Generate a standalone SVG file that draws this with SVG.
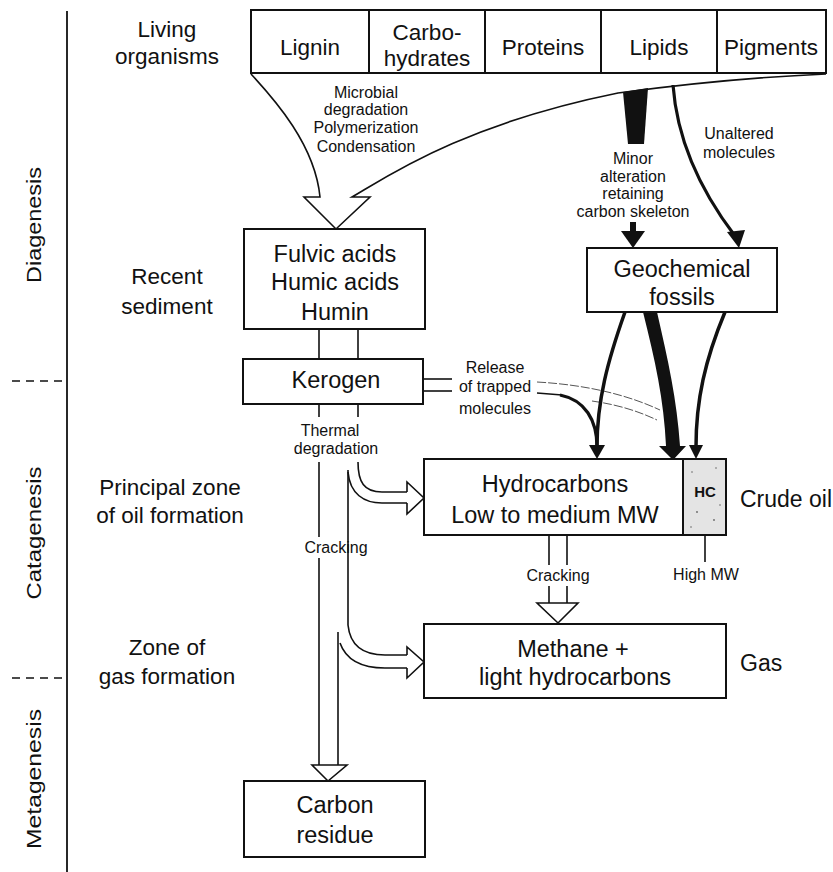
<svg xmlns="http://www.w3.org/2000/svg" width="833" height="872" viewBox="0 0 833 872">
<style>
.box{fill:#fff;stroke:#111;stroke-width:2}
.t{font-family:"Liberation Sans",Arial,sans-serif;font-size:22.5px;fill:#111;text-anchor:middle}
.s{font-size:16px}
.ln{fill:none;stroke:#111;stroke-width:1.6}
.thin{fill:none;stroke:#555;stroke-width:1;stroke-dasharray:9 2}
.ha{fill:#fff;stroke:#111;stroke-width:1.6;stroke-linejoin:miter}
.blk{fill:none;stroke:#111;stroke-width:3.5}
.bf{fill:#111;stroke:none}
</style>
<rect width="833" height="872" fill="#fff"/>

<g id="axis">
<line x1="67" y1="11" x2="67" y2="872" stroke="#111" stroke-width="1.8"/>
<line x1="12" y1="381" x2="62" y2="381" stroke="#111" stroke-width="1.5" stroke-dasharray="8 6"/>
<line x1="12" y1="678" x2="62" y2="678" stroke="#111" stroke-width="1.5" stroke-dasharray="8 6"/>
<text class="t" x="41" y="225" transform="rotate(-90 41 225)" style="font-size:20px" textLength="116" lengthAdjust="spacingAndGlyphs">Diagenesis</text>
<text class="t" x="41" y="533" transform="rotate(-90 41 533)" style="font-size:20px" textLength="133" lengthAdjust="spacingAndGlyphs">Catagenesis</text>
<text class="t" x="41" y="779" transform="rotate(-90 41 779)" style="font-size:20px" textLength="140" lengthAdjust="spacingAndGlyphs">Metagenesis</text>
</g>

<g id="zone-labels">
<text class="t" x="167" y="37">Living</text>
<text class="t" x="167" y="64">organisms</text>
<text class="t" x="167" y="284">Recent</text>
<text class="t" x="167" y="314">sediment</text>
<text class="t" x="170" y="495">Principal zone</text>
<text class="t" x="170" y="523">of oil formation</text>
<text class="t" x="167" y="655">Zone of</text>
<text class="t" x="167" y="684">gas formation</text>
</g>

<g id="connectors">
<!-- big hollow arrow from living organisms -->
<path class="ha" d="M251,74 C275,100 315,145 320,197 L304,197 L336,229 L370,197 L352,197 C385,178 460,125 618,93 C700,82 780,76 826,74"/>
<!-- black wedge from lipids -->
<polygon class="bf" points="623,92 648,88 644,144 628,144"/>
<!-- minor alteration arrow -->
<rect class="bf" x="630" y="222" width="6" height="10"/>
<polygon class="bf" points="621,231 645,231 633,248"/>
<!-- unaltered molecules arrow -->
<path class="ln" style="stroke-width:3.2" d="M673,85 C677,140 700,190 735,236"/>
<polygon class="bf" points="727,232 745,230 739,248"/>
<!-- fulvic to kerogen -->
<line class="ln" x1="319" y1="329" x2="319" y2="359"/>
<line class="ln" x1="358" y1="329" x2="358" y2="359"/>
<line class="ln" x1="319" y1="404" x2="319" y2="417"/>
<line class="ln" x1="358" y1="404" x2="358" y2="417"/>
<!-- release of trapped molecules -->
<line class="ln" x1="423" y1="379" x2="452" y2="379"/>
<line class="ln" x1="423" y1="391" x2="452" y2="391"/>
<path class="thin" d="M537,382 C590,385 630,396 660,410"/>
<path class="thin" d="M592,401 C620,405 640,412 657,420"/>
<path class="ln" style="stroke-width:1.4" d="M537,393 L562,395"/>
<path class="blk" style="stroke-width:3.2" d="M560,395 C585,400 597,420 597,447"/>
<!-- geochemical fossils to hydrocarbons -->
<path class="blk" d="M625,312 C608,360 597,400 597,447"/>
<polygon class="bf" points="589,445 605,445 597,459"/>
<path class="bf" d="M643,312 L657,312 C668,360 677,400 680,446 L686,446 L673,460 L659,446 L666,446 C664,400 655,360 643,312 Z"/>
<path class="blk" d="M725,312 C705,360 696,400 696,447"/>
<polygon class="bf" points="689,445 703,445 696,459"/>
<!-- thermal degradation to hydrocarbons -->
<path class="ln" d="M358,462 C358,482 364,492 382,492 L407,492"/>
<path class="ha" d="M407,492 L407,482 L424,498 L407,514 L407,503"/>
<path class="ln" d="M348,472 C350,494 364,503 382,503 L407,503"/>
<!-- to gas -->
<path class="ln" d="M348,470 L348,625 C350,645 362,655 385,655 L407,655"/>
<path class="ha" d="M407,655 L407,647 L424,662 L407,678 L407,668"/>
<path class="ln" d="M340,643 C346,660 362,668 385,668 L407,668"/>
<!-- to carbon residue -->
<line class="ln" x1="319" y1="462" x2="319" y2="537"/>
<line class="ln" x1="319" y1="558" x2="319" y2="765"/>
<line class="ln" x1="338" y1="632" x2="338" y2="765"/>
<polygon class="ha" points="312,765 347,765 328,781"/>
<!-- cracking hydrocarbons to gas -->
<line class="ln" x1="549" y1="535" x2="549" y2="565"/>
<line class="ln" x1="567" y1="535" x2="567" y2="565"/>
<line class="ln" x1="549" y1="586" x2="549" y2="603"/>
<line class="ln" x1="567" y1="586" x2="567" y2="603"/>
<polygon class="ha" points="537,603 578,603 558,623"/>
<!-- high MW pointer -->
<line class="ln" x1="705" y1="522" x2="705" y2="562"/>
</g>

<g id="connector-labels">
<text class="t s" x="366" y="98">Microbial</text>
<text class="t s" x="366" y="115">degradation</text>
<text class="t s" x="366" y="133">Polymerization</text>
<text class="t s" x="366" y="152">Condensation</text>
<text class="t s" x="633" y="164">Minor</text>
<text class="t s" x="633" y="182">alteration</text>
<text class="t s" x="633" y="199">retaining</text>
<text class="t s" x="633" y="217">carbon skeleton</text>
<text class="t s" x="739" y="139">Unaltered</text>
<text class="t s" x="739" y="158">molecules</text>
<text class="t s" x="495" y="373">Release</text>
<text class="t s" x="495" y="392">of trapped</text>
<text class="t s" x="495" y="414">molecules</text>
<text class="t s" x="330" y="436">Thermal</text>
<text class="t s" x="336" y="454">degradation</text>
<text class="t s" x="336" y="553">Cracking</text>
<text class="t s" x="558" y="581">Cracking</text>
<text class="t s" x="706" y="580">High MW</text>
</g>

<g id="living-organisms">
<rect class="box" x="251" y="10" width="575" height="63"/>
<line class="ln" style="stroke-width:2" x1="369" y1="10" x2="369" y2="73"/>
<line class="ln" style="stroke-width:2" x1="485" y1="10" x2="485" y2="73"/>
<line class="ln" style="stroke-width:2" x1="601" y1="10" x2="601" y2="73"/>
<line class="ln" style="stroke-width:2" x1="717" y1="10" x2="717" y2="73"/>
<text class="t" x="310" y="55">Lignin</text>
<text class="t" x="427" y="40">Carbo-</text>
<text class="t" x="427" y="66">hydrates</text>
<text class="t" x="543" y="55">Proteins</text>
<text class="t" x="659" y="55">Lipids</text>
<text class="t" x="771" y="55">Pigments</text>
</g>

<g id="fulvic">
<rect class="box" x="244" y="229" width="181" height="100"/>
<text class="t" style="font-size:23.5px" x="335" y="262">Fulvic acids</text>
<text class="t" style="font-size:23.5px" x="335" y="290">Humic acids</text>
<text class="t" style="font-size:23.5px" x="335" y="320">Humin</text>
</g>

<g id="kerogen">
<rect class="box" x="243" y="359" width="180" height="45"/>
<text class="t" style="font-size:23.5px" x="336" y="388">Kerogen</text>
</g>

<g id="geochemical-fossils">
<rect class="box" x="587" y="248" width="190" height="64"/>
<text class="t" style="font-size:23.5px" x="682" y="277">Geochemical</text>
<text class="t" style="font-size:23.5px" x="682" y="305">fossils</text>
</g>

<g id="hydrocarbons">
<rect class="box" x="424" y="459" width="259" height="76"/>
<text class="t" style="font-size:23.5px" x="555" y="492">Hydrocarbons</text>
<text class="t" style="font-size:23.5px" x="555" y="523">Low to medium MW</text>
</g>

<g id="hc">
<rect class="box" x="683" y="459" width="43" height="76" style="fill:#e4e4e4"/>
<circle cx="692" cy="472" r="0.8" fill="#666"/>
<circle cx="716" cy="468" r="0.8" fill="#666"/>
<circle cx="697" cy="512" r="0.9" fill="#666"/>
<circle cx="714" cy="520" r="0.9" fill="#666"/>
<circle cx="691" cy="527" r="0.8" fill="#666"/>
<circle cx="720" cy="505" r="0.8" fill="#666"/>
<text class="t" style="font-size:15px;font-weight:bold" x="705" y="497">HC</text>
</g>

<g id="crude-oil">
<text class="t" style="font-size:23px;text-anchor:start" x="740" y="507">Crude oil</text>
</g>

<g id="methane">
<rect class="box" x="424" y="624" width="302" height="74"/>
<text class="t" style="font-size:23.5px" x="573" y="657">Methane +</text>
<text class="t" style="font-size:23.5px" x="575" y="685">light hydrocarbons</text>
</g>

<g id="gas">
<text class="t" style="font-size:23px;text-anchor:start" x="740" y="671">Gas</text>
</g>

<g id="carbon-residue">
<rect class="box" x="244" y="781" width="181" height="76"/>
<text class="t" style="font-size:23.5px" x="335" y="813">Carbon</text>
<text class="t" style="font-size:23.5px" x="335" y="843">residue</text>
</g>
</svg>
